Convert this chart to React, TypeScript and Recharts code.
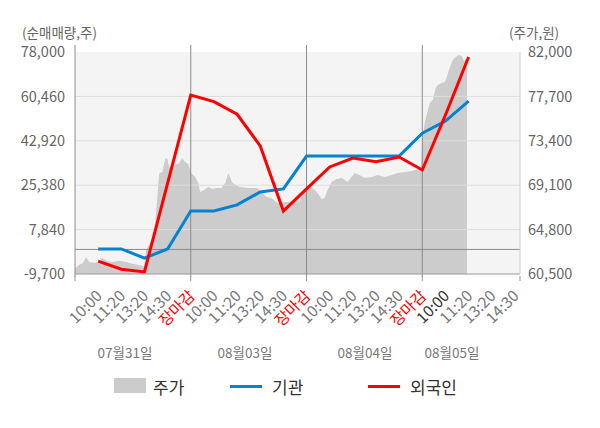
import { ComposedChart, Area, Line, XAxis, YAxis, CartesianGrid, ReferenceLine } from 'recharts';

// slot positions: 0 = left edge, 1..19 = labelled slots, day closes at 5, 10, 15
const slotLabels = [
  '10:00', '11:20', '13:20', '14:30', '장마감',
  '10:00', '11:20', '13:20', '14:30', '장마감',
  '10:00', '11:20', '13:20', '14:30', '장마감',
  '10:00', '11:20', '13:20', '14:30',
];
const dayLabels = ['07월31일', '08월03일', '08월04일', '08월05일'];
const dayLabelX = [125, 245, 365, 452];

// net buying (주), at slots 1..17
const flowSlots = [1, 2, 3, 4, 5, 6, 7, 8, 9, 10, 11, 12, 13, 14, 15, 16, 17];
const institution = [200, 200, -3400, 200, 15200, 15200, 17600, 22700, 23900, 36900, 36900, 36900, 36900, 36900, 45900, 50700, 58600];
const foreigner = [-4600, -7800, -8900, 26200, 61000, 58400, 53400, 40900, 15200, 23900, 32600, 36100, 34700, 36500, 31400, 53100, 76000];

// share price (원), intraday
const priceSlots = [
  0, 0.04, 0.17, 0.35, 0.48, 0.61, 0.82, 1.04, 1.17, 1.39, 1.6, 1.9, 2.21, 2.47, 2.77, 2.99,
  3.07, 3.42, 3.64, 3.77, 3.9, 3.98, 4.07, 4.16, 4.33, 4.5, 4.63, 4.76, 4.89,
  5.02, 5.19, 5.32, 5.41, 5.58, 5.76, 5.93, 6.1, 6.32, 6.49, 6.62, 6.8, 7.1, 7.53, 7.88,
  8.05, 8.27, 8.48, 8.74, 8.92, 9.05, 9.26, 9.48, 9.7, 9.91,
  10.09, 10.26, 10.48, 10.65, 10.78, 10.91, 11.08, 11.3, 11.52, 11.77, 12.08, 12.29, 12.51,
  12.81, 13.07, 13.38, 13.68, 13.94, 14.24, 14.55, 14.81, 14.94,
  15.0, 15.06, 15.11, 15.24, 15.32, 15.45, 15.58, 15.67, 15.84, 15.97, 16.06, 16.15,
  16.23, 16.32, 16.45, 16.58, 16.71, 16.8, 16.93,
];
const price = [
  61200, 61080, 61370, 61570, 62150, 61660, 61590, 61660, 62050, 61760, 61660, 61790, 61660, 61500, 61370, 61210,
  62820, 64180, 70280, 70380, 71640, 71730, 70860, 70570, 71060, 71250, 71730, 71350, 71150,
  70280, 69890, 69310, 68440, 68640, 68930, 68730, 68830, 68830, 69310, 70280, 69310, 68930, 68830, 68830,
  68440, 67960, 67860, 67380, 67380, 67470, 67470, 67670, 67470, 68640,
  69120, 68830, 68350, 67760, 67860, 68640, 69410, 69700, 69800, 69410, 70280, 70090, 69800,
  69890, 70090, 69890, 70090, 70280, 70380, 70480, 70670, 70570,
  73960, 74450, 75220, 76380, 77060, 77350, 78510, 78800, 79000, 79100, 79580, 80260,
  80740, 81230, 81520, 81710, 81620, 81130, 81420,
];

const leftTicks = [-9700, 7840, 25380, 42920, 60460, 78000];
const rightTicks = [60500, 64800, 69100, 73400, 77700, 82000];
const X_MAX = 19.22;
const xTicks = [0, ...slotLabels.map((_, k) => k + 1), X_MAX];

const rows = (() => {
  const map = new Map<number, any>();
  priceSlots.forEach((s, k) => map.set(s, { i: s, price: price[k] }));
  flowSlots.forEach((s, k) => {
    const r = map.get(s) || { i: s };
    r.inst = institution[k];
    r.frgn = foreigner[k];
    map.set(s, r);
  });
  return [...map.values()].sort((a, b) => a.i - b.i);
})();

const FONT = '"Noto Sans CJK KR", "Noto Sans", sans-serif';

function SlotTick(props: any) {
  const { x, y, payload } = props;
  const v = payload.value;
  const idx = Math.round(v);
  const whole = Math.abs(v - idx) < 1e-6;
  const mark = v === X_MAX || (whole && idx % 5 === 0);
  const label = whole && idx >= 1 && idx <= 19 ? slotLabels[idx - 1] : null;
  const color = label === '장마감' ? '#ff0000' : idx === 16 ? '#333333' : '#777777';
  const ax = x + 5;
  const ay = y + 21;
  return (
    <g>
      {mark && <line x1={x} y1={y} x2={x} y2={y + 5} stroke="#999" />}
      {label && (
        <text x={ax} y={ay} transform={`rotate(-45 ${ax} ${ay})`} textAnchor="end" fill={color} fontSize={15.5} fontFamily={FONT}>
          {label}
        </text>
      )}
    </g>
  );
}

const tall = (p: any) => {
  const top = Math.min(p.y1, p.y2);
  const bottom = Math.max(p.y1, p.y2);
  return <line x1={p.x1} x2={p.x2} y1={top - 7} y2={bottom + 3} stroke="#8c8c8c" strokeWidth={1} />;
};

const abs = (left: number, top: number, extra: any = {}) => ({
  position: 'absolute' as const,
  left,
  top,
  lineHeight: 1,
  whiteSpace: 'nowrap' as const,
  fontFamily: FONT,
  ...extra,
});

export default function App() {
  return (
    <div style={{ position: 'absolute', left: 0, top: 0, width: 600, height: 428, background: '#fff' }}>
      <ComposedChart width={600} height={428} data={rows} margin={{ top: 52, right: 0, bottom: 94, left: 0 }}>
        <CartesianGrid yAxisId="left" horizontal={false} vertical={false} fill="#f4f4f4" />
        <XAxis
          dataKey="i"
          type="number"
          domain={[0, X_MAX]}
          ticks={xTicks}
          interval={0}
          tick={<SlotTick />}
          tickLine={false}
          tickSize={0}
          axisLine={{ stroke: '#999' }}
          height={60}
        />
        <YAxis
          yAxisId="left"
          width={75}
          domain={[-9700, 78000]}
          ticks={leftTicks}
          interval={0}
          tickFormatter={(v: number) => v.toLocaleString('en-US')}
          tick={{ fill: '#666', fontSize: 14.5, fontFamily: FONT }}
          tickLine={false}
          tickSize={0}
          tickMargin={10}
          axisLine={false}
        />
        <YAxis
          yAxisId="right"
          orientation="right"
          width={80}
          domain={[60500, 82000]}
          ticks={rightTicks}
          interval={0}
          tickFormatter={(v: number) => v.toLocaleString('en-US')}
          tick={{ fill: '#666', fontSize: 14.5, fontFamily: FONT }}
          tickLine={false}
          tickSize={0}
          tickMargin={8}
          axisLine={{ stroke: '#d0d0d0' }}
        />
        <Area
          yAxisId="right"
          dataKey="price"
          type="linear"
          fill="#cccccc"
          fillOpacity={1}
          stroke="none"
          connectNulls
          dot={false}
          activeDot={false}
          isAnimationActive={false}
        />
        {[7840, 25380, 42920, 60460].map((v) => (
          <ReferenceLine key={v} yAxisId="left" y={v} stroke="#dddddd" />
        ))}
        <ReferenceLine yAxisId="left" y={0} stroke="#8c8c8c" />
        {[0, 5, 10, 15].map((v) => (
          <ReferenceLine key={`d${v}`} yAxisId="left" x={v} stroke="#8c8c8c" shape={tall} />
        ))}
        <Line
          yAxisId="left"
          dataKey="inst"
          type="linear"
          stroke="#0483d0"
          strokeWidth={3}
          dot={false}
          activeDot={false}
          connectNulls
          isAnimationActive={false}
        />
        <Line
          yAxisId="left"
          dataKey="frgn"
          type="linear"
          stroke="#ff0000"
          strokeWidth={3}
          dot={false}
          activeDot={false}
          connectNulls
          isAnimationActive={false}
        />
      </ComposedChart>

      <div style={abs(22, 26, { fontSize: 13.5, color: '#666' })}>(순매매량,주)</div>
      <div style={abs(509, 26, { fontSize: 13.5, color: '#666' })}>(주가,원)</div>

      {dayLabels.map((d, k) => (
        <div key={d} style={abs(dayLabelX[k], 353, { fontSize: 13.5, color: '#777', transform: 'translate(-50%, -50%)' })}>
          {d}
        </div>
      ))}

      <div style={abs(114, 378, { width: 32, height: 15, background: '#cccccc' })} />
      <div style={abs(153, 386, { fontSize: 17, color: '#333', transform: 'translateY(-50%)' })}>주가</div>
      <div style={abs(230, 385, { width: 32, height: 3, background: '#0483d0' })} />
      <div style={abs(272, 386, { fontSize: 17, color: '#333', transform: 'translateY(-50%)' })}>기관</div>
      <div style={abs(368, 385, { width: 32, height: 3, background: '#ff0000' })} />
      <div style={abs(410, 386, { fontSize: 17, color: '#333', transform: 'translateY(-50%)' })}>외국인</div>
    </div>
  );
}
